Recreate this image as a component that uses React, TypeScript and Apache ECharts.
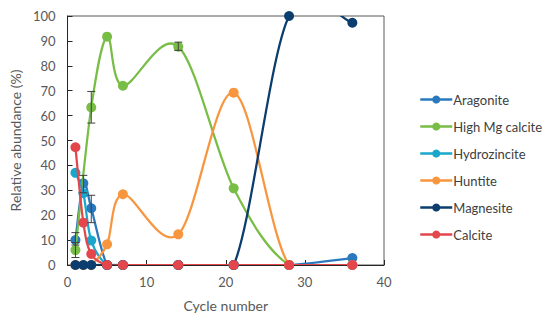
import React, { useEffect, useRef } from "react";
import * as echarts from "echarts";

const seriesNames = ["Aragonite", "High Mg calcite", "Hydrozincite", "Huntite", "Magnesite", "Calcite"];
const colors = ["#2A78BE", "#78BD45", "#1AA7CB", "#F7963E", "#0B3D6E", "#E3474B"];

const cycles = [1, 2, 3, 5, 7, 14, 21, 28, 36];
const aragonite = [10, 32.8, 22.8, 0, 0, 0, 0, 0, 2.8];
const highMgCycles = [1, 3, 5, 7, 14, 21, 28, 36];
const highMg = [6, 63.3, 91.7, 72, 87.7, 30.8, 0, 0];
const hydrozincite = [37, 28.8, 9.8, 0, 0, 0, 0, 0, 0];
const huntite = [0, 0, 0, 8.3, 28.4, 12.3, 69.2, 0, 0];
const magnesite = [0, 0, 0, 0, 0, 0, 0, 100, 97.3];
const calcite = [47.3, 17, 4.4, 0, 0, 0, 0, 0, 0];

// error bars: [cycle, low, high]
const errorBars = [
  [1, 8, 13],
  [1, 3, 9],
  [2, 29, 36],
  [3, 17, 28],
  [3, 57, 69.7],
  [14, 86.2, 89.5],
];

const yTicks = [0, 10, 20, 30, 40, 50, 60, 70, 80, 90, 100];

export default function App() {
  const ref = useRef<HTMLDivElement>(null);
  useEffect(() => {
    if (!ref.current) return;
    const chart = echarts.init(ref.current, undefined, { renderer: "svg" });
    const font = "Lato, 'Open Sans', sans-serif";
    const valueSets = [aragonite, highMg, hydrozincite, huntite, magnesite, calcite];
    const allSeries: any[] = [];
    seriesNames.forEach((name, i) => {
      const xs = i === 1 ? highMgCycles : cycles;
      const pts = xs.map((x, j) => [x, valueSets[i][j]]);
      // smoothed curve (Catmull-Rom style, like spreadsheet smoothing)
      allSeries.push({
        type: "custom",
        name: name + " curve",
        clip: true,
        z: 2 + i * 2,
        silent: true,
        data: pts,
        encode: { x: 0, y: 1 },
        renderItem: (params: any, api: any) => {
          const k = params.dataIndex;
          if (k >= pts.length - 1) return null;
          const c = (p: number[]) => api.coord(p);
          const p0 = c(pts[Math.max(k - 1, 0)]);
          const p1 = c(pts[k]);
          const p2 = c(pts[k + 1]);
          const p3 = c(pts[Math.min(k + 2, pts.length - 1)]);
          const cp1 = [p1[0] + (p2[0] - p0[0]) / 6, p1[1] + (p2[1] - p0[1]) / 6];
          const cp2 = [p2[0] - (p3[0] - p1[0]) / 6, p2[1] - (p3[1] - p1[1]) / 6];
          return {
            type: "bezierCurve",
            shape: {
              x1: p1[0], y1: p1[1],
              x2: p2[0], y2: p2[1],
              cpx1: cp1[0], cpy1: cp1[1],
              cpx2: cp2[0], cpy2: cp2[1],
            },
            style: { fill: null, stroke: colors[i], lineWidth: 2.25 },
          };
        },
      });
      allSeries.push({
        name,
        type: "line",
        data: pts,
        symbol: "circle",
        symbolSize: 10,
        lineStyle: { width: 0, color: colors[i] },
        itemStyle: { color: colors[i] },
        z: 3 + i * 2,
        clip: true,
      });
    });
    chart.setOption({
      animation: false,
      backgroundColor: "#fff",
      grid: {
        left: 66,
        right: 166,
        top: 16,
        bottom: 59,
        show: true,
        borderColor: "#595959",
        borderWidth: 1,
      },
      legend: {
        orient: "vertical",
        left: 414,
        top: 88,
        itemWidth: 32,
        itemHeight: 10,
        itemGap: 14,
        data: seriesNames,
        lineStyle: { width: 2.5 },
        textStyle: { fontFamily: font, fontSize: 13, color: "#404040", padding: [0, 0, 0, -4] },
      },
      xAxis: {
        type: "value",
        min: 0,
        max: 40,
        interval: 10,
        name: "Cycle number",
        nameLocation: "middle",
        nameGap: 33,
        nameTextStyle: { fontFamily: font, fontSize: 14, color: "#595959" },
        axisLine: { show: true, lineStyle: { color: "#262626", width: 1 } },
        axisTick: { show: true, inside: true, length: 5, lineStyle: { color: "#262626" } },
        axisLabel: { fontFamily: font, fontSize: 13, color: "#595959", margin: 10 },
        splitLine: { show: false },
      },
      yAxis: {
        type: "value",
        min: 0,
        max: 100,
        interval: 10,
        name: "Relative abundance (%)",
        nameLocation: "middle",
        nameGap: 44,
        nameTextStyle: { fontFamily: font, fontSize: 14, color: "#595959" },
        axisLine: { show: true, lineStyle: { color: "#262626", width: 1 } },
        axisTick: { show: true, inside: true, length: 5, lineStyle: { color: "#262626" } },
        axisLabel: {
          fontFamily: font,
          fontSize: 13,
          color: "#595959",
          margin: 12,
          formatter: (v: number) => (yTicks.includes(v) ? String(v) : ""),
        },
        splitLine: { show: false },
      },
      series: [
        ...allSeries,
        {
          type: "custom",
          name: "errors",
          z: 20,
          silent: true,
          data: errorBars,
          renderItem: (params: any, api: any) => {
            const x = api.value(0);
            const lo = api.coord([x, api.value(1)]);
            const hi = api.coord([x, api.value(2)]);
            const cap = 4;
            const style = { stroke: "#404040", lineWidth: 1 };
            return {
              type: "group",
              children: [
                { type: "line", shape: { x1: lo[0], y1: lo[1], x2: hi[0], y2: hi[1] }, style },
                { type: "line", shape: { x1: lo[0] - cap, y1: lo[1], x2: lo[0] + cap, y2: lo[1] }, style },
                { type: "line", shape: { x1: hi[0] - cap, y1: hi[1], x2: hi[0] + cap, y2: hi[1] }, style },
              ],
            };
          },
        },
      ],
    });
    return () => chart.dispose();
  }, []);
  return <div ref={ref} style={{ width: 550, height: 324, position: "absolute", left: 0, top: 0 }} />;
}
